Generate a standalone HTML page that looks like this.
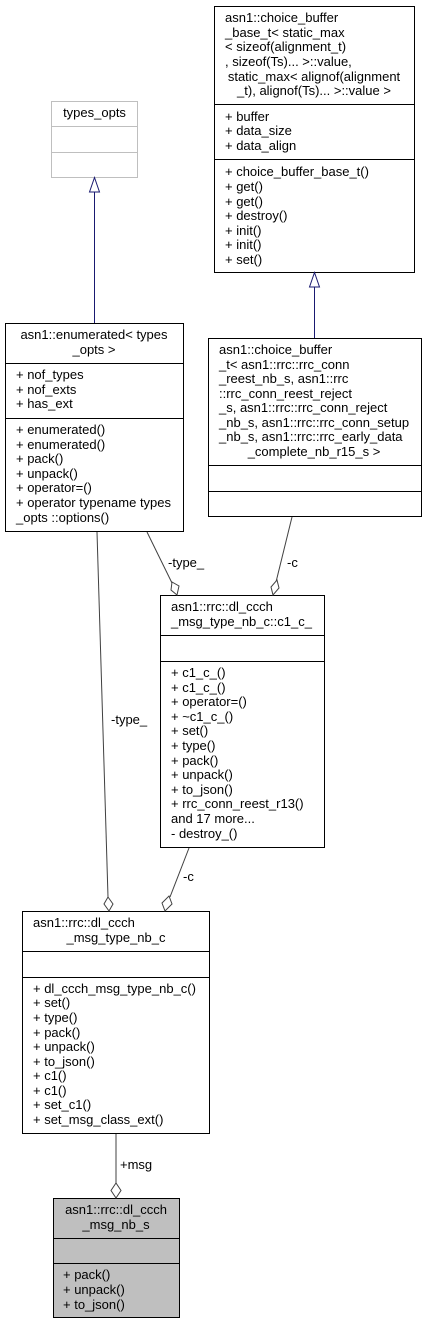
<!DOCTYPE html>
<html><head><meta charset="utf-8"><style>html,body{margin:0;padding:0;background:#fff}svg{display:block}text{font-family:"Liberation Sans",sans-serif;font-size:13px;fill:#000}</style></head><body>
<svg width="427" height="1324" viewBox="0 0 427 1324" xmlns="http://www.w3.org/2000/svg">
<g fill="#fff" stroke-width="1">
<rect x="51.5" y="101.5" width="86" height="76" stroke="#bfbfbf"/>
<line x1="51.5" y1="126.5" x2="137.5" y2="126.5" stroke="#bfbfbf"/>
<line x1="51.5" y1="152.5" x2="137.5" y2="152.5" stroke="#bfbfbf"/>
<rect x="214.5" y="6.5" width="200" height="266" stroke="#000"/>
<line x1="214.5" y1="104.5" x2="414.5" y2="104.5" stroke="#000"/>
<line x1="214.5" y1="159.5" x2="414.5" y2="159.5" stroke="#000"/>
<rect x="5.5" y="323.5" width="178" height="208" stroke="#000"/>
<line x1="5.5" y1="363.5" x2="183.5" y2="363.5" stroke="#000"/>
<line x1="5.5" y1="418.5" x2="183.5" y2="418.5" stroke="#000"/>
<rect x="208.5" y="338.5" width="213" height="178" stroke="#000"/>
<line x1="208.5" y1="465.5" x2="421.5" y2="465.5" stroke="#000"/>
<line x1="208.5" y1="491.5" x2="421.5" y2="491.5" stroke="#000"/>
<rect x="160.5" y="595.5" width="164" height="252" stroke="#000"/>
<line x1="160.5" y1="635.5" x2="324.5" y2="635.5" stroke="#000"/>
<line x1="160.5" y1="661.5" x2="324.5" y2="661.5" stroke="#000"/>
<rect x="22.5" y="911.5" width="187" height="222" stroke="#000"/>
<line x1="22.5" y1="951.5" x2="209.5" y2="951.5" stroke="#000"/>
<line x1="22.5" y1="977.5" x2="209.5" y2="977.5" stroke="#000"/>
<rect x="53.5" y="1198.5" width="126" height="119" fill="#bfbfbf" stroke="#000"/>
<line x1="53.5" y1="1238.5" x2="179.5" y2="1238.5" stroke="#000"/>
<line x1="53.5" y1="1263.5" x2="179.5" y2="1263.5" stroke="#000"/>
</g>
<g stroke="#191970" fill="#fff">
<line x1="94.5" y1="192" x2="94.5" y2="323"/>
<polygon points="94.5,177.5 89.5,192 99.5,192"/>
<line x1="314.5" y1="287" x2="314.5" y2="338"/>
<polygon points="314.5,272.5 309.5,287 319.5,287"/>
</g>
<g stroke="#404040" fill="#fff">
<line x1="147" y1="532" x2="172" y2="583"/>
<polygon points="177,595 171,590 172,582 179,586"/>
<line x1="292" y1="517" x2="276" y2="582"/>
<polygon points="273,595 271,587 277,580 279,588"/>
<line x1="97" y1="532" x2="108" y2="897"/>
<polygon points="109,911 104,904 108,897 113,904"/>
<line x1="189" y1="848" x2="170" y2="897"/>
<polygon points="165,911 162,903 169,896 172,904"/>
<line x1="116" y1="1134" x2="116" y2="1183"/>
<polygon points="116,1198 111,1190.5 116,1183 121,1190.5"/>
</g>
<text x="168" y="567">-type_</text>
<text x="287" y="567">-c</text>
<text x="111" y="724">-type_</text>
<text x="183" y="881">-c</text>
<text x="120" y="1169">+msg</text>
<text x="94.5" y="117" text-anchor="middle">types_opts</text>
<text x="225" y="22">asn1::choice_buffer</text>
<text x="225" y="37">_base_t&lt; static_max</text>
<text x="225" y="51">&lt; sizeof(alignment_t)</text>
<text x="225" y="66">, sizeof(Ts)... &gt;::value,</text>
<text x="314" y="81" text-anchor="middle">static_max&lt; alignof(alignment</text>
<text x="314" y="95" text-anchor="middle">_t), alignof(Ts)... &gt;::value &gt;</text>
<text x="225" y="121">+ buffer</text>
<text x="225" y="135">+ data_size</text>
<text x="225" y="150">+ data_align</text>
<text x="225" y="176">+ choice_buffer_base_t()</text>
<text x="225" y="191">+ get()</text>
<text x="225" y="206">+ get()</text>
<text x="225" y="220">+ destroy()</text>
<text x="225" y="235">+ init()</text>
<text x="225" y="249">+ init()</text>
<text x="225" y="264">+ set()</text>
<text x="94" y="339" text-anchor="middle">asn1::enumerated&lt; types</text>
<text x="94" y="354" text-anchor="middle">_opts &gt;</text>
<text x="16" y="379">+ nof_types</text>
<text x="16" y="394">+ nof_exts</text>
<text x="16" y="408">+ has_ext</text>
<text x="16" y="434">+ enumerated()</text>
<text x="16" y="449">+ enumerated()</text>
<text x="16" y="463">+ pack()</text>
<text x="16" y="478">+ unpack()</text>
<text x="16" y="492">+ operator=()</text>
<text x="16" y="507">+ operator typename types</text>
<text x="16" y="522">_opts ::options()</text>
<text x="219" y="354">asn1::choice_buffer</text>
<text x="219" y="369">_t&lt; asn1::rrc::rrc_conn</text>
<text x="219" y="383">_reest_nb_s, asn1::rrc</text>
<text x="219" y="398">::rrc_conn_reest_reject</text>
<text x="219" y="412">_s, asn1::rrc::rrc_conn_reject</text>
<text x="219" y="427">_nb_s, asn1::rrc::rrc_conn_setup</text>
<text x="219" y="441">_nb_s, asn1::rrc::rrc_early_data</text>
<text x="314" y="456" text-anchor="middle">_complete_nb_r15_s &gt;</text>
<text x="171" y="611">asn1::rrc::dl_ccch</text>
<text x="171" y="626">_msg_type_nb_c::c1_c_</text>
<text x="171" y="677">+ c1_c_()</text>
<text x="171" y="692">+ c1_c_()</text>
<text x="171" y="706">+ operator=()</text>
<text x="171" y="721">+ ~c1_c_()</text>
<text x="171" y="735">+ set()</text>
<text x="171" y="750">+ type()</text>
<text x="171" y="765">+ pack()</text>
<text x="171" y="779">+ unpack()</text>
<text x="171" y="794">+ to_json()</text>
<text x="171" y="808">+ rrc_conn_reest_r13()</text>
<text x="171" y="823">and 17 more...</text>
<text x="171" y="838">- destroy_()</text>
<text x="33" y="927">asn1::rrc::dl_ccch</text>
<text x="116" y="942" text-anchor="middle">_msg_type_nb_c</text>
<text x="33" y="993">+ dl_ccch_msg_type_nb_c()</text>
<text x="33" y="1007">+ set()</text>
<text x="33" y="1022">+ type()</text>
<text x="33" y="1037">+ pack()</text>
<text x="33" y="1051">+ unpack()</text>
<text x="33" y="1066">+ to_json()</text>
<text x="33" y="1080">+ c1()</text>
<text x="33" y="1095">+ c1()</text>
<text x="33" y="1109">+ set_c1()</text>
<text x="33" y="1124">+ set_msg_class_ext()</text>
<text x="116" y="1214" text-anchor="middle">asn1::rrc::dl_ccch</text>
<text x="116" y="1229" text-anchor="middle">_msg_nb_s</text>
<text x="63" y="1279">+ pack()</text>
<text x="63" y="1294">+ unpack()</text>
<text x="63" y="1309">+ to_json()</text>
</svg>
</body></html>
